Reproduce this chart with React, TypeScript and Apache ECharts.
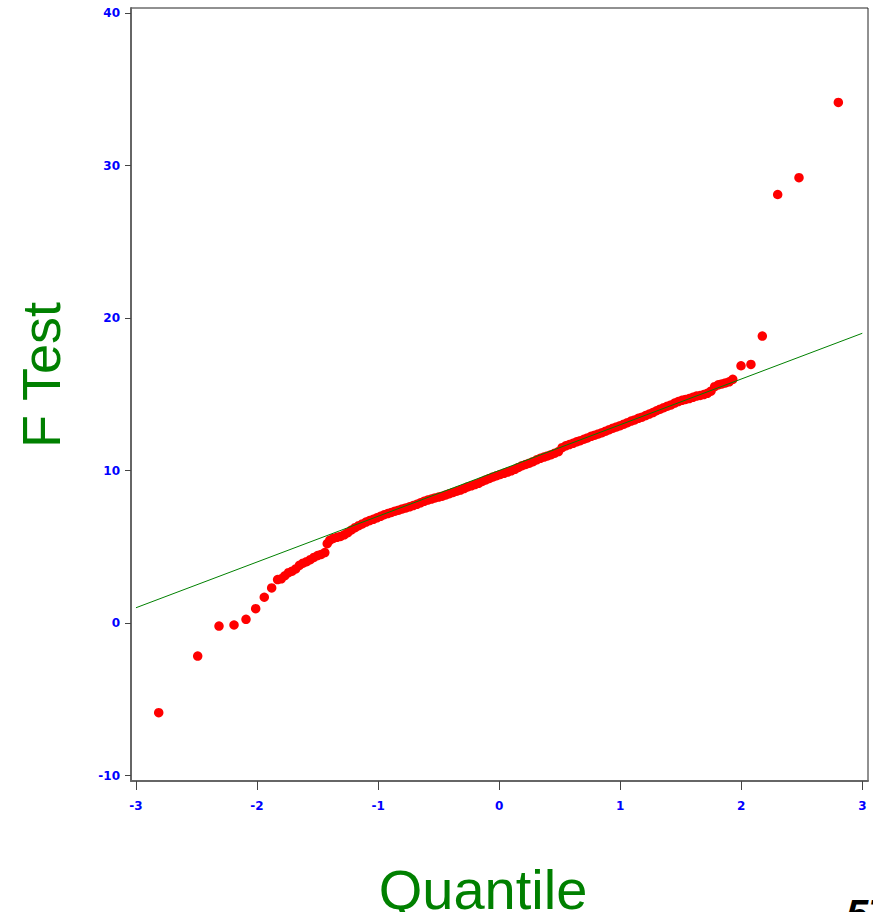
import React, { useEffect, useRef } from "react";
import * as echarts from "echarts";

// Normal quantile (x) and observed F Test value (y) for each plotted point
const quantiles = [
  -2.812, -2.49, -2.314, -2.19, -2.091, -2.011, -1.94, -1.879,
  -1.83, -1.8, -1.77, -1.74, -1.71, -1.68, -1.65, -1.62, -1.59, -1.56, -1.53, -1.5, -1.47, -1.44,
  -1.42, -1.4, -1.37, -1.34, -1.31, -1.28, -1.25, -1.22, -1.19, -1.16, -1.13, -1.1, -1.07, -1.04,
  -1.01, -0.98, -0.95, -0.92, -0.89, -0.86, -0.83, -0.8, -0.77, -0.74, -0.71, -0.68, -0.65, -0.62,
  -0.59, -0.56, -0.53, -0.5, -0.47, -0.44, -0.41, -0.38, -0.35, -0.32, -0.29, -0.26, -0.23, -0.2,
  -0.17, -0.14, -0.11, -0.08, -0.05, -0.02, 0.01, 0.04, 0.07, 0.1, 0.13, 0.16, 0.19, 0.22, 0.25,
  0.28, 0.31, 0.34, 0.37, 0.4, 0.43, 0.46, 0.49, 0.52, 0.55, 0.58, 0.61, 0.64, 0.67, 0.7, 0.73,
  0.76, 0.79, 0.82, 0.85, 0.88, 0.91, 0.94, 0.97, 1.0, 1.03, 1.06, 1.09, 1.12, 1.15, 1.18, 1.21,
  1.24, 1.27, 1.3, 1.33, 1.36, 1.39, 1.42, 1.45, 1.48, 1.51, 1.54, 1.57, 1.6, 1.63, 1.66, 1.69,
  1.72, 1.75, 1.78, 1.81, 1.84, 1.87, 1.9, 1.93,
  1.998, 2.08, 2.174, 2.301, 2.477, 2.802,
];
const fValues = [
  -5.88, -2.17, -0.2, -0.13, 0.24, 0.94, 1.69, 2.3,
  2.85, 2.9, 3.1, 3.3, 3.4, 3.55, 3.78, 3.92, 4.02, 4.15, 4.3, 4.42, 4.5, 4.62,
  5.2, 5.42, 5.55, 5.62, 5.68, 5.78, 5.92, 6.1, 6.25, 6.38, 6.5, 6.62, 6.72, 6.8,
  6.9, 7.0, 7.1, 7.18, 7.25, 7.33, 7.4, 7.48, 7.55, 7.62, 7.7, 7.78, 7.88, 7.98,
  8.06, 8.13, 8.2, 8.26, 8.32, 8.4, 8.48, 8.56, 8.64, 8.72, 8.82, 8.92, 9.0, 9.08,
  9.16, 9.28, 9.38, 9.48, 9.58, 9.66, 9.74, 9.82, 9.9, 9.98, 10.08, 10.2, 10.32, 10.4, 10.48,
  10.58, 10.7, 10.8, 10.88, 10.96, 11.04, 11.14, 11.24, 11.5, 11.62, 11.7, 11.78, 11.88, 11.96, 12.05, 12.14,
  12.24, 12.32, 12.4, 12.48, 12.58, 12.68, 12.78, 12.86, 12.94, 13.04, 13.14, 13.24, 13.32, 13.42, 13.5, 13.6,
  13.7, 13.8, 13.92, 14.02, 14.12, 14.22, 14.3, 14.42, 14.52, 14.6, 14.66, 14.72, 14.8, 14.88, 14.92, 14.98,
  15.06, 15.2, 15.5, 15.62, 15.68, 15.74, 15.82, 15.98,
  16.87, 16.96, 18.82, 28.1, 29.2, 34.14,
];

// Reference line endpoints
const refLineX = [-3, 3];
const refLineY = [1, 19];

// Axis ticks
const xTickValues = [-3, -2, -1, 0, 1, 2, 3];
const yTickValues = [-10, 0, 10, 20, 30, 40];

const FONT = "Liberation Sans, Arial, sans-serif";
const TICK_FONT = "DejaVu Sans, Verdana, sans-serif";

export default function App() {
  const ref = useRef<HTMLDivElement>(null);

  useEffect(() => {
    document.body.style.margin = "0";
    const chart = echarts.init(ref.current!, null, { renderer: "svg" });

    const points = quantiles.map((q, i) => [q, fValues[i]]);
    const linePts = refLineX.map((x, i) => [x, refLineY[i]]);

    const labelStyle = {
      color: "#0000ff",
      fontWeight: "bold" as const,
      fontSize: 12,
      fontFamily: TICK_FONT,
    };

    chart.setOption({
      animation: false,
      backgroundColor: "#ffffff",
      grid: {
        left: 131,
        top: 8,
        width: 737,
        height: 773,
        show: true,
        borderColor: "#222",
        borderWidth: 1,
        backgroundColor: "transparent",
      },
      xAxis: {
        type: "value",
        min: -3.041,
        max: 3.047,
        position: "bottom",
        splitLine: { show: false },
        axisLine: { onZero: false, lineStyle: { color: "#666", width: 2 } },
        axisTick: {
          show: true,
          length: 9,
          customValues: xTickValues,
          lineStyle: { color: "#444", width: 1 },
        },
        axisLabel: {
          ...labelStyle,
          margin: 19,
          customValues: xTickValues,
        },
      },
      yAxis: {
        type: "value",
        min: -10.36,
        max: 40.33,
        splitLine: { show: false },
        axisLine: { onZero: false, lineStyle: { color: "#666", width: 2 } },
        axisTick: {
          show: true,
          length: 6,
          customValues: yTickValues,
          lineStyle: { color: "#444", width: 1 },
        },
        axisLabel: {
          ...labelStyle,
          margin: 11,
          customValues: yTickValues,
        },
      },
      series: [
        {
          type: "scatter",
          data: points,
          symbol: "circle",
          symbolSize: 9.5,
          itemStyle: { color: "#ff0000", opacity: 1 },
          z: 2,
        },
        {
          type: "line",
          data: linePts,
          symbol: "none",
          lineStyle: { color: "#008000", width: 1 },
          z: 3,
        },
      ],
      graphic: [
        {
          type: "text",
          x: 41,
          y: 375,
          rotation: Math.PI / 2,
          style: {
            text: "F Test",
            fill: "#008000",
            font: `54px ${FONT}`,
            align: "center",
            verticalAlign: "middle",
          },
        },
        {
          type: "text",
          x: 483,
          y: 889,
          style: {
            text: "Quantile",
            fill: "#008000",
            font: `56px ${FONT}`,
            align: "center",
            verticalAlign: "middle",
          },
        },
        {
          type: "text",
          x: 846,
          y: 894,
          style: {
            text: "57",
            fill: "#000000",
            font: `italic bold 40px ${FONT}`,
            align: "left",
            verticalAlign: "top",
          },
        },
      ],
    });

    return () => chart.dispose();
  }, []);

  return (
    <div
      ref={ref}
      style={{ width: 873, height: 912, position: "absolute", left: 0, top: 0 }}
    />
  );
}
